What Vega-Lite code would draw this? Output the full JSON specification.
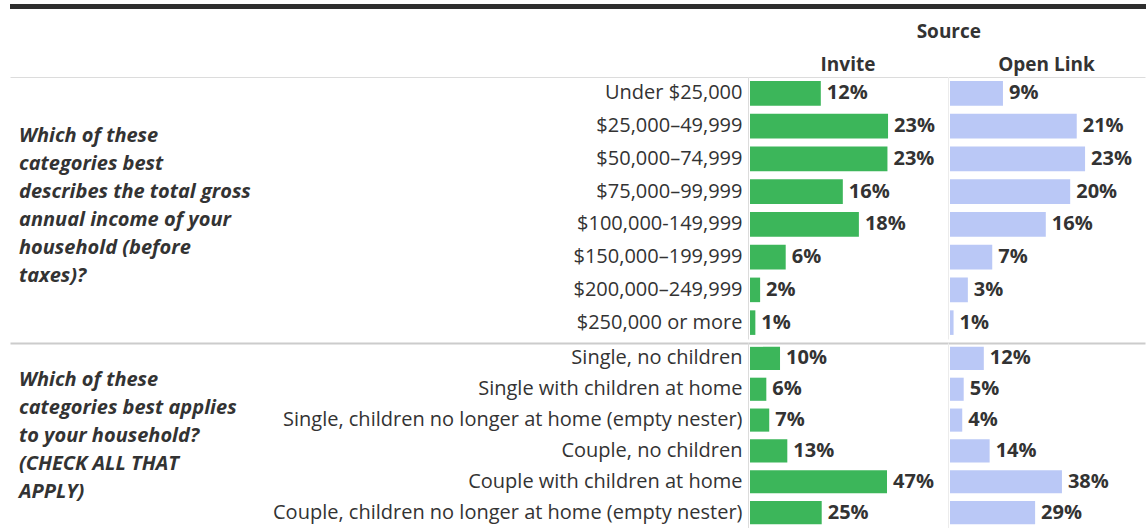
{
  "$schema": "https://vega.github.io/schema/vega-lite/v6.json",
  "padding": {"left": 10, "top": 0, "right": 0, "bottom": 0},
  "background": "white",
  "config": {
    "view": {"stroke": null},
    "font": "Open Sans",
    "axis": {"grid": false, "ticks": false, "tickSize": 0, "title": null, "labelFont": "Open Sans", "domainColor": "#dcdcdc", "domainWidth": 1},
    "title": {"font": "Open Sans", "fontSize": 19, "fontWeight": "bold", "color": "#333333"}
  },
  "datasets": {
    "questions": [
      {"id": 1, "question": "Which of these\ncategories best\ndescribes the total gross\nannual income of your\nhousehold (before\ntaxes)?"},
      {"id": 2, "question": "Which of these\ncategories best applies\nto your household?\n(CHECK ALL THAT\nAPPLY)"}
    ],
    "income": [
      {"answer": "Under $25,000", "source": "Invite", "value": 0.119},
      {"answer": "$25,000–49,999", "source": "Invite", "value": 0.232},
      {"answer": "$50,000–74,999", "source": "Invite", "value": 0.231},
      {"answer": "$75,000–99,999", "source": "Invite", "value": 0.156},
      {"answer": "$100,000-149,999", "source": "Invite", "value": 0.183},
      {"answer": "$150,000–199,999", "source": "Invite", "value": 0.060},
      {"answer": "$200,000–249,999", "source": "Invite", "value": 0.017},
      {"answer": "$250,000 or more", "source": "Invite", "value": 0.009},
      {"answer": "Under $25,000", "source": "Open Link", "value": 0.089},
      {"answer": "$25,000–49,999", "source": "Open Link", "value": 0.213},
      {"answer": "$50,000–74,999", "source": "Open Link", "value": 0.227},
      {"answer": "$75,000–99,999", "source": "Open Link", "value": 0.202},
      {"answer": "$100,000-149,999", "source": "Open Link", "value": 0.161},
      {"answer": "$150,000–199,999", "source": "Open Link", "value": 0.071},
      {"answer": "$200,000–249,999", "source": "Open Link", "value": 0.030},
      {"answer": "$250,000 or more", "source": "Open Link", "value": 0.006}
    ],
    "household": [
      {"answer": "Single, no children", "source": "Invite", "value": 0.103},
      {"answer": "Single with children at home", "source": "Invite", "value": 0.056},
      {"answer": "Single, children no longer at home (empty nester)", "source": "Invite", "value": 0.066},
      {"answer": "Couple, no children", "source": "Invite", "value": 0.128},
      {"answer": "Couple with children at home", "source": "Invite", "value": 0.470},
      {"answer": "Couple, children no longer at home (empty nester)", "source": "Invite", "value": 0.246},
      {"answer": "Single, no children", "source": "Open Link", "value": 0.116},
      {"answer": "Single with children at home", "source": "Open Link", "value": 0.047},
      {"answer": "Single, children no longer at home (empty nester)", "source": "Open Link", "value": 0.042},
      {"answer": "Couple, no children", "source": "Open Link", "value": 0.136},
      {"answer": "Couple with children at home", "source": "Open Link", "value": 0.384},
      {"answer": "Couple, children no longer at home (empty nester)", "source": "Open Link", "value": 0.292}
    ]
  },
  "spacing": 11,
  "vconcat": [
    {
      "width": 1136,
      "height": 5,
      "view": {"fill": "#2e2e2e", "stroke": null},
      "data": {"values": [{}]},
      "mark": {"type": "text"},
      "encoding": {"text": {"value": ""}}
    },
    {
      "title": {"text": "Source", "anchor": "end", "frame": "bounds", "dx": -164, "offset": 14},
      "columns": 3,
      "align": "each",
      "bounds": "flush",
      "spacing": {"row": 4, "column": 0},
      "resolve": {"scale": {"x": "independent", "y": "independent"}, "axis": {"x": "independent", "y": "independent"}},
      "concat": [
        {
          "width": 738,
          "height": 262,
          "data": {"name": "questions"},
          "transform": [{"filter": "datum.id == 1"}],
          "mark": {"type": "text", "align": "left", "baseline": "middle", "dx": 9, "dy": -72, "lineBreak": "\n", "lineHeight": 28, "fontSize": 20, "fontWeight": "bold", "fontStyle": "italic", "color": "#333333"},
          "encoding": {
            "x": {"datum": 0, "type": "quantitative", "scale": {"domain": [0, 1], "nice": false}, "axis": {"orient": "top", "labels": false, "domain": true}},
            "text": {"field": "question"}
          }
        },
        {
          "width": 200,
          "height": 262,
          "title": {"text": "Invite", "offset": 2},
          "data": {"name": "income"},
          "transform": [{"filter": "datum.source == 'Invite'"}],
          "encoding": {
            "y": {"field": "answer", "type": "nominal", "sort": null, "scale": {"paddingInner": 0.25, "paddingOuter": 0.125}, "axis": {"orient": "left", "labelFontSize": 20, "labelColor": "#333333", "labelPadding": 6, "labelLimit": 700, "domain": true}},
            "x": {"field": "value", "type": "quantitative", "scale": {"domain": [-0.00336, 0.33277], "nice": false}, "axis": {"orient": "top", "labels": false}}
          },
          "layer": [
            {"mark": {"type": "bar", "color": "#3cb65a"}, "encoding": {"x2": {"datum": 0}}},
            {"mark": {"type": "text", "align": "left", "dx": 6, "fontSize": 20, "fontWeight": "bold", "color": "#333333"}, "encoding": {"text": {"field": "value", "format": ".0%"}}}
          ]
        },
        {
          "width": 197,
          "height": 262,
          "title": {"text": "Open Link", "offset": 2},
          "data": {"name": "income"},
          "transform": [{"filter": "datum.source == 'Open Link'"}],
          "encoding": {
            "y": {"field": "answer", "type": "nominal", "sort": null, "scale": {"paddingInner": 0.25, "paddingOuter": 0.125}, "axis": {"orient": "left", "labels": false, "domain": true, "domainColor": "#ececec"}},
            "x": {"field": "value", "type": "quantitative", "scale": {"domain": [-0.00336, 0.32773], "nice": false}, "axis": {"orient": "top", "labels": false}}
          },
          "layer": [
            {"mark": {"type": "bar", "color": "#bac8f6"}, "encoding": {"x2": {"datum": 0}}},
            {"mark": {"type": "text", "align": "left", "dx": 6, "fontSize": 20, "fontWeight": "bold", "color": "#333333"}, "encoding": {"text": {"field": "value", "format": ".0%"}}}
          ]
        },
        {
          "width": 738,
          "height": 185,
          "data": {"name": "questions"},
          "transform": [{"filter": "datum.id == 2"}],
          "mark": {"type": "text", "align": "left", "baseline": "middle", "dx": 9, "dy": -56, "lineBreak": "\n", "lineHeight": 28, "fontSize": 20, "fontWeight": "bold", "fontStyle": "italic", "color": "#333333"},
          "encoding": {
            "x": {"datum": 0, "type": "quantitative", "scale": {"domain": [0, 1], "nice": false}, "axis": {"orient": "top", "labels": false, "domain": true, "domainColor": "#cccccc", "domainWidth": 2}},
            "text": {"field": "question"}
          }
        },
        {
          "width": 200,
          "height": 185,
          "data": {"name": "household"},
          "transform": [{"filter": "datum.source == 'Invite'"}],
          "encoding": {
            "y": {"field": "answer", "type": "nominal", "sort": null, "scale": {"paddingInner": 0.25, "paddingOuter": 0.125}, "axis": {"orient": "left", "labelFontSize": 20, "labelColor": "#333333", "labelPadding": 6, "labelLimit": 700, "domain": true}},
            "x": {"field": "value", "type": "quantitative", "scale": {"domain": [-0.00686, 0.67925], "nice": false}, "axis": {"orient": "top", "labels": false, "domainColor": "#cccccc", "domainWidth": 2}}
          },
          "layer": [
            {"mark": {"type": "bar", "color": "#3cb65a"}, "encoding": {"x2": {"datum": 0}}},
            {"mark": {"type": "text", "align": "left", "dx": 6, "fontSize": 20, "fontWeight": "bold", "color": "#333333"}, "encoding": {"text": {"field": "value", "format": ".0%"}}}
          ]
        },
        {
          "width": 197,
          "height": 185,
          "data": {"name": "household"},
          "transform": [{"filter": "datum.source == 'Open Link'"}],
          "encoding": {
            "y": {"field": "answer", "type": "nominal", "sort": null, "scale": {"paddingInner": 0.25, "paddingOuter": 0.125}, "axis": {"orient": "left", "labels": false, "domain": true, "domainColor": "#ececec"}},
            "x": {"field": "value", "type": "quantitative", "scale": {"domain": [-0.00686, 0.66895], "nice": false}, "axis": {"orient": "top", "labels": false, "domainColor": "#cccccc", "domainWidth": 2}}
          },
          "layer": [
            {"mark": {"type": "bar", "color": "#bac8f6"}, "encoding": {"x2": {"datum": 0}}},
            {"mark": {"type": "text", "align": "left", "dx": 6, "fontSize": 20, "fontWeight": "bold", "color": "#333333"}, "encoding": {"text": {"field": "value", "format": ".0%"}}}
          ]
        }
      ]
    }
  ]
}
